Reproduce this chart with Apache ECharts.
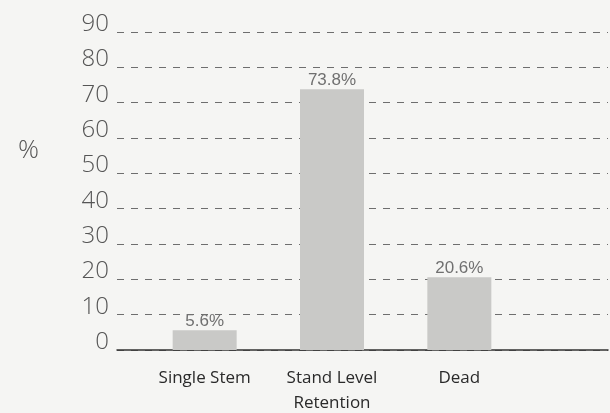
<!DOCTYPE html>
<html>
<head>
<meta charset="utf-8">
<script src="https://cdn.jsdelivr.net/npm/echarts@6/dist/echarts.min.js"></script>
<style>
  html, body { margin: 0; padding: 0; background: #f5f5f3; }
  #chart { width: 610px; height: 413px; }
</style>
</head>
<body>
<div id="chart"></div>
<script>
// Outcome shares, in percent
const categories = ['Single Stem', 'Stand Level\nRetention', 'Dead'];
const shares = [5.6, 73.8, 20.6];
const yTicks = { min: 0, max: 90, step: 10 };

const chart = echarts.init(document.getElementById('chart'));

const gridTop = 32;
const gridBottom = 63;

chart.setOption({
  backgroundColor: '#f5f5f3',
  animation: false,
  title: {
    text: '%',
    left: 13,
    top: 133,
    textStyle: { fontFamily: 'Open Sans', fontWeight: 300, fontSize: 26, color: '#555' }
  },
  grid: [
    // frame: value ticks, dashed guides and the baseline
    { left: 117, right: 2, top: gridTop, bottom: gridBottom, outerBoundsMode: 'none' },
    // bars: three evenly spaced categories
    { left: 141, width: 382, top: gridTop, bottom: gridBottom, outerBoundsMode: 'none' }
  ],
  xAxis: [
    {
      gridIndex: 0, type: 'category', data: [''],
      axisLine: { show: true, lineStyle: { color: '#333', width: 1.5 } },
      axisTick: { show: false }, axisLabel: { show: false }
    },
    {
      gridIndex: 1, type: 'category', data: categories,
      axisLine: { show: false }, axisTick: { show: false },
      axisLabel: {
        margin: 16,
        fontFamily: 'Open Sans',
        fontSize: 17,
        lineHeight: 25,
        color: '#2a2a2a'
      }
    }
  ],
  yAxis: [
    {
      gridIndex: 0, type: 'value',
      min: yTicks.min, max: yTicks.max, interval: yTicks.step,
      axisLine: { show: false }, axisTick: { show: false },
      axisLabel: {
        margin: 8,
        fontFamily: 'Open Sans', fontWeight: 300, fontSize: 24,
        color: '#555',
        verticalAlign: 'bottom', lineHeight: 16
      },
      splitLine: {
        show: true,
        lineStyle: { color: '#6e6e6e', width: 1, type: [7, 7] }
      }
    },
    {
      gridIndex: 1, type: 'value',
      min: yTicks.min, max: yTicks.max, interval: yTicks.step,
      show: false
    }
  ],
  series: [
    {
      type: 'bar',
      xAxisIndex: 1, yAxisIndex: 1,
      data: shares,
      barWidth: 64,
      itemStyle: { color: '#c9c9c7' },
      label: {
        show: true,
        position: 'top',
        distance: 0,
        formatter: p => p.value.toFixed(1) + '%',
        fontFamily: 'Liberation Sans', fontSize: 17, color: '#707070'
      }
    }
  ]
});
</script>
</body>
</html>
